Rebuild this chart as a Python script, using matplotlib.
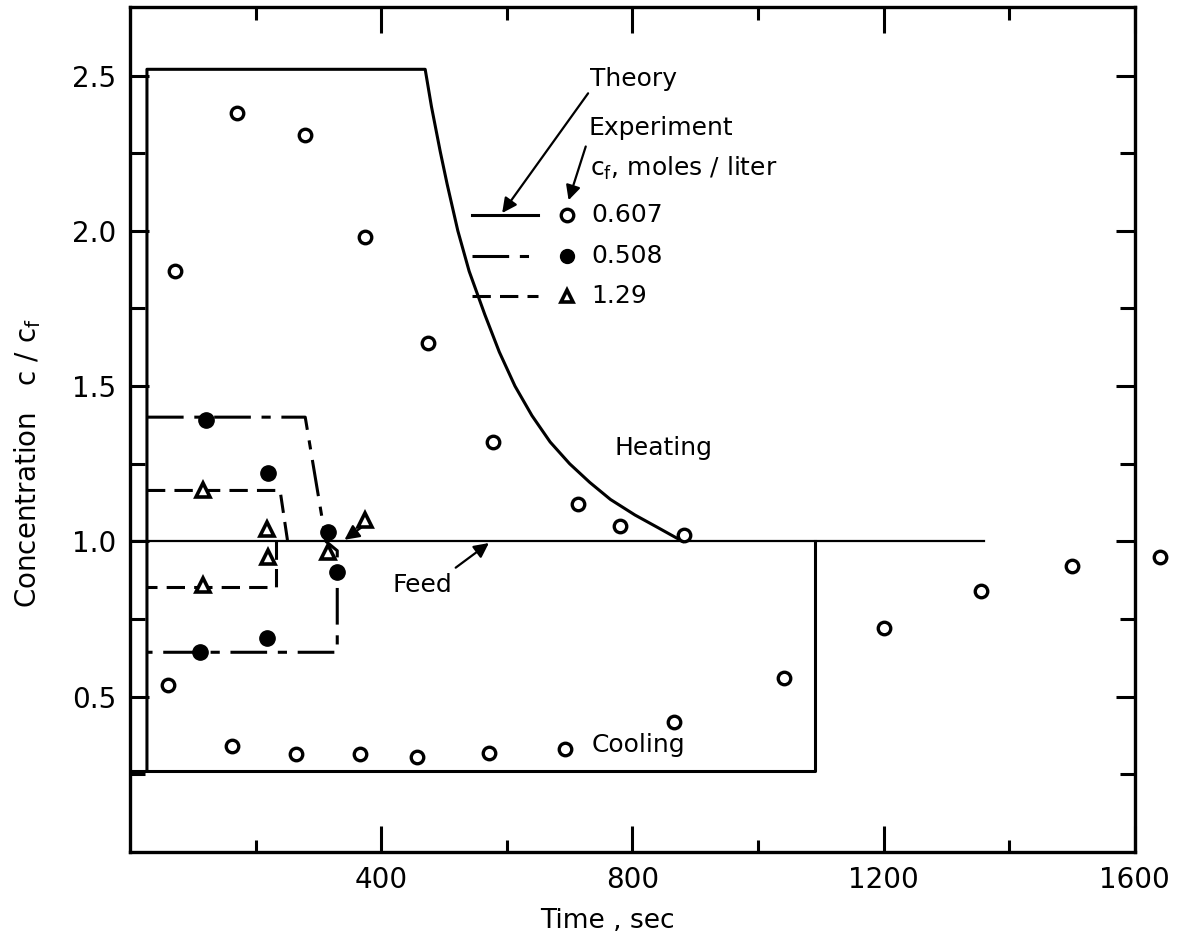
import matplotlib.pyplot as plt
from matplotlib.ticker import FixedLocator

# theory profiles (time in sec, c/c_f)
feed_t = [0, 1360]
feed_c = [1.0, 1.0]

theory_607_heat_t = [27, 27, 470, 480, 494, 505, 522, 540, 565, 588, 613, 640,
                     669, 700, 732, 765, 804, 840, 880]
theory_607_heat_c = [0.26, 2.52, 2.52, 2.40, 2.255, 2.15, 2.0, 1.87, 1.73, 1.61,
                     1.50, 1.405, 1.32, 1.25, 1.19, 1.135, 1.085, 1.045, 1.0]
theory_607_cool_t = [0, 1090, 1090]
theory_607_cool_c = [0.26, 0.26, 1.0]

theory_508_t = [27, 279, 312, 330, 330, 27]
theory_508_c = [1.40, 1.40, 1.0, 0.97, 0.643, 0.643]

theory_129_heat_t = [27, 239, 251]
theory_129_heat_c = [1.164, 1.164, 1.0]
theory_129_cool_t = [232, 232, 27]
theory_129_cool_c = [1.0, 0.852, 0.852]

# experiment points
exp_607_heat_t = [72, 170, 279, 374, 474, 578, 713, 780, 882]
exp_607_heat_c = [1.87, 2.38, 2.31, 1.98, 1.64, 1.32, 1.12, 1.05, 1.02]
exp_607_cool_t = [60, 162, 264, 366, 457, 571, 693, 866, 1042, 1200, 1355, 1500, 1640]
exp_607_cool_c = [0.537, 0.34, 0.315, 0.315, 0.305, 0.32, 0.33, 0.42, 0.56, 0.72,
                  0.84, 0.92, 0.95]

exp_508_t = [121, 220, 315, 330, 111, 218]
exp_508_c = [1.39, 1.22, 1.03, 0.90, 0.643, 0.69]

exp_129_t = [116, 218, 220, 116, 315, 374]
exp_129_c = [1.164, 1.04, 0.95, 0.86, 0.965, 1.07]

x_major = [400, 800, 1200, 1600]
x_minor = [200, 600, 1000, 1400]
y_major = [0.5, 1.0, 1.5, 2.0, 2.5]
y_minor = [0.25, 0.75, 1.25, 1.75, 2.25]

plt.rcParams['font.family'] = ['DejaVu Sans']

fig = plt.figure(figsize=(11.85, 9.46), dpi=100)
ax = fig.add_axes([0.1097, 0.0994, 0.848, 0.893])

lw = 2.2
ax.plot(feed_t, feed_c, color="black", lw=1.6)
ax.plot(theory_607_heat_t, theory_607_heat_c, color="black", lw=lw)
ax.plot(theory_607_cool_t, theory_607_cool_c, color="black", lw=lw)
ax.plot(theory_508_t, theory_508_c, color="black", lw=lw, dashes=(12, 3.5, 3, 3.5))
ax.plot(theory_129_heat_t, theory_129_heat_c, color="black", lw=lw, dashes=(6, 3))
ax.plot(theory_129_cool_t, theory_129_cool_c, color="black", lw=lw, dashes=(6, 3))

open_circle = dict(ms=9, mfc="white", mec="black", mew=2.4, ls="none", clip_on=False)
ax.plot(exp_607_heat_t, exp_607_heat_c, "o", **open_circle)
ax.plot(exp_607_cool_t, exp_607_cool_c, "o", **open_circle)
ax.plot(exp_508_t, exp_508_c, "o", ms=11, mfc="black", mec="black")
ax.plot(exp_129_t, exp_129_c, "^", ms=10, mfc="white", mec="black", mew=2.6)

# legend drawn by hand like the original
ax.plot([545, 650], [2.05, 2.05], color="black", lw=lw)
ax.plot([545, 650], [1.92, 1.92], color="black", lw=lw, dashes=(12, 3.5, 3, 3.5))
ax.plot([545, 650], [1.79, 1.79], color="black", lw=lw, dashes=(6, 3))
ax.plot([696], [2.05], "o", ms=9, mfc="white", mec="black", mew=2.4)
ax.plot([696], [1.92], "o", ms=10, mfc="black", mec="black")
ax.plot([696], [1.79], "^", ms=9, mfc="white", mec="black", mew=2.6)
fs = 18
ax.text(735, 2.05, "0.607", fontsize=fs, va="center")
ax.text(735, 1.92, "0.508", fontsize=fs, va="center")
ax.text(735, 1.79, "1.29", fontsize=fs, va="center")
ax.text(733, 2.49, "Theory", fontsize=fs, va="center")
ax.text(730, 2.33, "Experiment", fontsize=fs, va="center")
ax.text(733, 2.2, "c$_\\mathregular{f}$, moles / liter", fontsize=fs, va="center")

arrow = dict(arrowstyle="-|>", color="black", lw=1.6, mutation_scale=22)
ax.annotate("", xy=(590, 2.05), xytext=(732, 2.45), arrowprops=arrow)
ax.annotate("", xy=(697, 2.09), xytext=(727, 2.28), arrowprops=arrow)
ax.annotate("", xy=(575, 1.0), xytext=(515, 0.91), arrowprops=arrow)
ax.annotate("", xy=(338, 1.0), xytext=(372, 1.05), arrowprops=arrow)

ax.text(850, 1.3, "Heating", fontsize=fs, ha="center", va="center")
ax.text(810, 0.345, "Cooling", fontsize=fs, ha="center", va="center")
ax.text(465, 0.86, "Feed", fontsize=fs, ha="center", va="center")

ax.set_xlim(0, 1600)
ax.set_ylim(0, 2.72)
ax.xaxis.set_major_locator(FixedLocator(x_major))
ax.xaxis.set_minor_locator(FixedLocator(x_minor))
ax.yaxis.set_major_locator(FixedLocator(y_major))
ax.yaxis.set_minor_locator(FixedLocator(y_minor))
ax.set_xticklabels([str(v) for v in x_major])
ax.set_yticklabels([f"{v:.1f}" for v in y_major])
ax.tick_params(which="both", direction="in", top=True, right=True, width=2.2,
               labelsize=20, pad=10)
ax.tick_params(which="major", axis="x", length=19)
ax.tick_params(which="minor", axis="x", length=9)
ax.tick_params(which="major", axis="y", length=14)
ax.tick_params(which="minor", axis="y", length=11)
for s in ax.spines.values():
    s.set_linewidth(2.4)

ax.set_xlabel("Time , sec", fontsize=19)
ax.xaxis.set_label_coords(0.475, -0.066)
ax.set_ylabel("Concentration   c / c$_\\mathregular{f}$", fontsize=20)
ax.yaxis.set_label_coords(-0.087, 0.46)

fig.savefig("out.png", dpi=100)
